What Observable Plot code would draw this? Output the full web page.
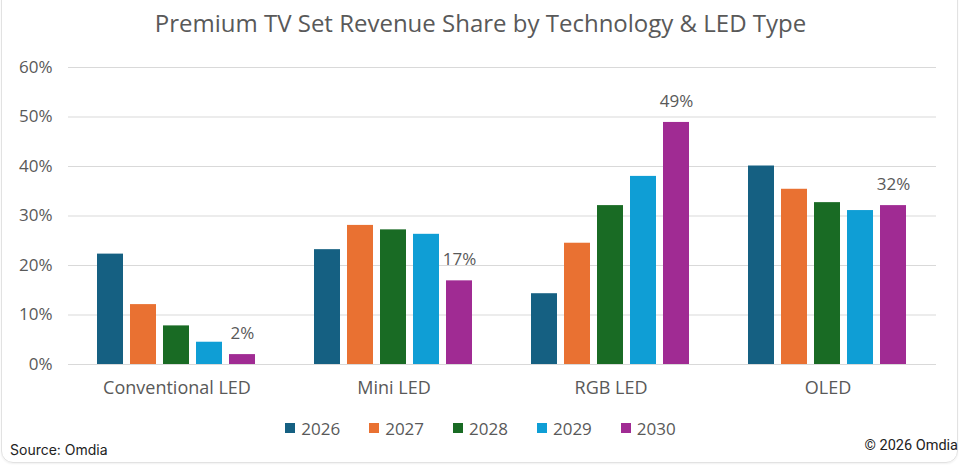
<!DOCTYPE html>
<html>
<head>
<meta charset="utf-8">
<script src="https://cdn.jsdelivr.net/npm/d3@7"></script>
<script src="https://cdn.jsdelivr.net/npm/@observablehq/plot@0.6"></script>
<style>
  html, body { margin: 0; padding: 0; background: #fff; }
  #wrap { position: relative; width: 961px; height: 468px; overflow: hidden; font-family: "Open Sans", sans-serif; color: #595959; }
  #card { position: absolute; left: 1px; top: -20px; width: 955px; height: 481px; border: 1px solid #e2e2e2; border-radius: 12px; box-shadow: 0 1px 2px rgba(0,0,0,0.06); }
  #title { position: absolute; left: 0; top: 0; width: 961px; height: 45px; line-height: 45px; text-align: center; font-size: 24px; color: #595959; }
  #chart { position: absolute; left: 0; top: 50px; }
  #legend { position: absolute; left: 0; top: 416px; width: 961px; height: 24px; display: flex; justify-content: center; align-items: center; gap: 29px; font-size: 17px; color: #595959; }
  #legend .item { display: flex; align-items: center; gap: 6px; }
  #legend .sw { width: 10px; height: 10px; display: inline-block; }
  #source { position: absolute; left: 10px; top: 441px; font-family: Inter, sans-serif; font-size: 14px; color: #222; }
  #copy { position: absolute; right: 3px; top: 437px; font-family: Roboto, sans-serif; font-size: 14.5px; color: #222; }
</style>
</head>
<body>
<div id="wrap">
  <div id="card"></div>
  <div id="title">Premium TV Set Revenue Share by Technology &amp; LED Type</div>
  <div id="chart"></div>
  <div id="legend"></div>
  <div id="source">Source: Omdia</div>
  <div id="copy">© 2026 Omdia</div>
</div>
<script>
const categories = ["Conventional LED", "Mini LED", "RGB LED", "OLED"];
const years = ["2026", "2027", "2028", "2029", "2030"];
const share2026 = [22.3, 23.2, 14.3, 40.1];
const share2027 = [12.1, 28.1, 24.5, 35.4];
const share2028 = [7.8, 27.2, 32.1, 32.7];
const share2029 = [4.5, 26.3, 38.0, 31.1];
const share2030 = [2.0, 16.9, 48.9, 32.1];
const yTicks = [0, 10, 20, 30, 40, 50, 60];
const colors = ["#156082", "#E97132", "#196B24", "#0F9ED5", "#A02B93"];

const seriesByYear = [share2026, share2027, share2028, share2029, share2030];
const rows = [];
years.forEach((yr, i) => {
  categories.forEach((cat, j) => {
    rows.push({category: cat, year: yr, value: seriesByYear[i][j]});
  });
});
const labelRows = rows.filter(d => d.year === "2030");

const chart = Plot.plot({
  width: 961,
  height: 360,
  marginLeft: 68,
  marginRight: 25,
  marginTop: 17,
  marginBottom: 46,
  style: {fontFamily: "'Open Sans', sans-serif", color: "#595959", background: "transparent", overflow: "visible"},
  fx: {domain: categories, padding: 0, label: null},
  x: {domain: years, paddingInner: 0.21, paddingOuter: 0.89, axis: null},
  y: {domain: [0, 60], label: null},
  color: {domain: years, range: colors},
  marks: [
    Plot.gridY(yTicks, {stroke: "#d9d9d9", strokeOpacity: 1, strokeWidth: 1.2}),
    Plot.axisY(yTicks, {tickSize: 0, tickPadding: 16, tickFormat: d => d + "%", fontSize: 17, fill: "#595959", label: null}),
    Plot.axisFx({anchor: "bottom", tickSize: 0, tickPadding: 17, fontSize: 18, fill: "#595959", label: null}),
    Plot.barY(rows, {fx: "category", x: "year", y: "value", fill: "year"}),
    Plot.text(labelRows, {fx: "category", x: "year", y: "value", text: d => Math.round(d.value) + "%", dy: -21, fontSize: 17, fill: "#595959"})
  ]
});
document.getElementById("chart").appendChild(chart);

const legend = document.getElementById("legend");
years.forEach((yr, i) => {
  const item = document.createElement("div");
  item.className = "item";
  const sw = document.createElement("span");
  sw.className = "sw";
  sw.style.background = colors[i];
  const t = document.createElement("span");
  t.textContent = yr;
  item.appendChild(sw);
  item.appendChild(t);
  legend.appendChild(item);
});
</script>
</body>
</html>
